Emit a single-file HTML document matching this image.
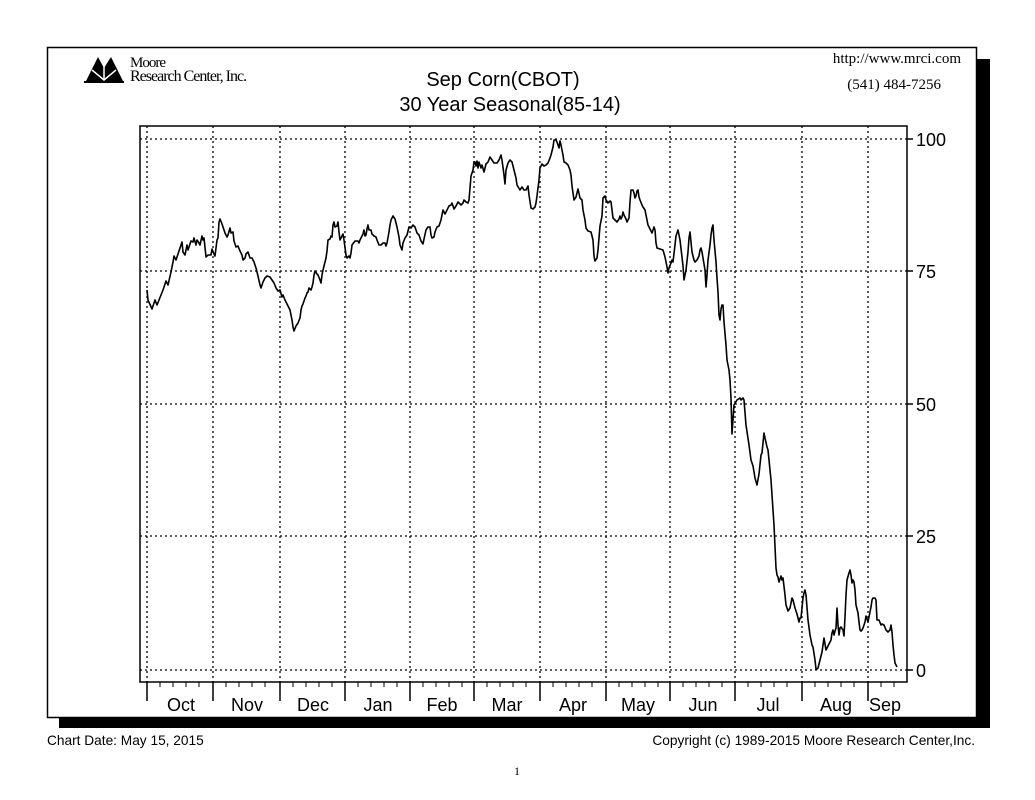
<!DOCTYPE html>
<html><head><meta charset="utf-8"><style>
body{margin:0;background:#fff;}
svg{display:block;}
</style></head><body>
<svg width="1035" height="800" viewBox="0 0 1035 800" xmlns="http://www.w3.org/2000/svg">
<rect x="0" y="0" width="1035" height="800" fill="#fff"/>
<rect x="59" y="59" width="931" height="669" fill="#000"/>
<rect x="47.5" y="47.5" width="929" height="670" fill="#fff" stroke="#000" stroke-width="1.5"/>
<!-- logo -->
<g fill="#000">
<polygon points="86,81 98,57 104,68 111,57 123,81"/>
<rect x="84" y="81" width="40" height="2"/>
</g>
<g stroke="#fff" stroke-width="1.5" fill="none"><path d="M92,70 L104,80 L116,70"/><path d="M104,58 L104,80"/></g>
<text x="130" y="67" font-family="Liberation Serif,serif" font-size="15" letter-spacing="-1">Moore</text>
<text x="130" y="81" font-family="Liberation Serif,serif" font-size="16" letter-spacing="-1">Research Center, Inc.</text>
<text x="961" y="63" text-anchor="end" font-family="Liberation Serif,serif" font-size="15">http://www.mrci.com</text>
<text x="941" y="89" text-anchor="end" font-family="Liberation Serif,serif" font-size="15">(541) 484-7256</text>
<text x="503" y="86" text-anchor="middle" font-family="Liberation Sans,sans-serif" font-size="20">Sep Corn(CBOT)</text>
<text x="510" y="111" text-anchor="middle" font-family="Liberation Sans,sans-serif" font-size="20">30 Year Seasonal(85-14)</text>
<!-- plot frame -->
<rect x="140" y="126" width="767" height="556" fill="none" stroke="#000" stroke-width="1.5"/>
<g stroke="#000" stroke-width="1.3" stroke-dasharray="2,3" fill="none">
<line x1="140" y1="139" x2="907" y2="139"/><line x1="140" y1="271" x2="907" y2="271"/><line x1="140" y1="404" x2="907" y2="404"/><line x1="140" y1="536" x2="907" y2="536"/><line x1="140" y1="670" x2="907" y2="670"/>
<line x1="147" y1="126" x2="147" y2="682"/><line x1="213" y1="126" x2="213" y2="682"/><line x1="280" y1="126" x2="280" y2="682"/><line x1="345" y1="126" x2="345" y2="682"/><line x1="410" y1="126" x2="410" y2="682"/><line x1="474" y1="126" x2="474" y2="682"/><line x1="540" y1="126" x2="540" y2="682"/><line x1="606" y1="126" x2="606" y2="682"/><line x1="670" y1="126" x2="670" y2="682"/><line x1="735" y1="126" x2="735" y2="682"/><line x1="802" y1="126" x2="802" y2="682"/><line x1="868" y1="126" x2="868" y2="682"/>
</g>
<g stroke="#000" stroke-width="1.5">
<line x1="907" y1="139" x2="913" y2="139"/><line x1="907" y1="271" x2="913" y2="271"/><line x1="907" y1="404" x2="913" y2="404"/><line x1="907" y1="536" x2="913" y2="536"/><line x1="907" y1="670" x2="913" y2="670"/>
<line x1="147" y1="682" x2="147" y2="701"/><line x1="213" y1="682" x2="213" y2="701"/><line x1="280" y1="682" x2="280" y2="701"/><line x1="345" y1="682" x2="345" y2="701"/><line x1="410" y1="682" x2="410" y2="701"/><line x1="474" y1="682" x2="474" y2="701"/><line x1="540" y1="682" x2="540" y2="701"/><line x1="606" y1="682" x2="606" y2="701"/><line x1="670" y1="682" x2="670" y2="701"/><line x1="735" y1="682" x2="735" y2="701"/><line x1="802" y1="682" x2="802" y2="701"/><line x1="868" y1="682" x2="868" y2="701"/>
</g>
<g font-family="Liberation Sans,sans-serif" font-size="18">
<text x="916" y="146">100</text><text x="916" y="278">75</text><text x="916" y="411">50</text><text x="916" y="543">25</text><text x="916" y="677">0</text>
</g>
<g font-family="Liberation Sans,sans-serif" font-size="18" text-anchor="middle">
<text x="181" y="711">Oct</text><text x="247" y="711">Nov</text><text x="313" y="711">Dec</text><text x="378" y="711">Jan</text><text x="442" y="711">Feb</text><text x="507" y="711">Mar</text><text x="573" y="711">Apr</text><text x="638" y="711">May</text><text x="703" y="711">Jun</text><text x="768" y="711">Jul</text><text x="836" y="711">Aug</text><text x="885" y="711">Sep</text>
</g>
<polyline fill="none" stroke="#000" stroke-width="1.6" stroke-linejoin="round" points="147,290 148,300 152,309 155,300 157,305 163,290 166,281 168,285 171,272 173,262 174,256 176,260 180,248 182,242 183,252 185,255 187,245 188,250 191,241 193,242 194,238 196,245 197,240 199,243 200,245 202,236 203,240 204,238 206,257 208,255 211,255 212,249 214,254 215,256 217,240 218,238 219,222 220,219 222,224 224,230 225,233 227,237 228,235 230,228 231,233 233,232 234,241 236,247 238,246 240,251 242,255 243,260 245,258 246,254 248,252 250,258 252,258 254,262 256,268 258,276 260,285 261,288 263,282 265,278 267,276 270,277 272,280 274,283 276,288 278,291 280,290 282,297 283,295 285,300 287,304 290,310 291,315 292,320 293,327 294,331 296,326 298,323 300,318 301,310 302,306 303,304 305,298 306,296 307,293 308,292 309,288 311,290 312,287 313,283 314,275 315,271 317,274 318,275 320,280 321,283 322,275 323,270 324,266 325,262 326,258 327,251 328,240 330,239 331,236 332,237 333,225 334,222 335,227 337,226 338,222 339,232 340,240 342,236 343,234 344,240 346,255 347,258 349,256 350,258 351,253 352,245 355,241 358,241 359,243 360,240 362,236 363,234 364,230 365,236 366,235 367,229 368,225 369,230 371,230 372,234 374,236 376,237 377,240 379,245 381,245 383,243 385,243 386,246 387,243 389,232 390,225 391,220 393,216 395,219 397,227 399,237 400,245 402,250 403,243 405,238 407,235 409,227 411,228 413,225 415,227 417,233 419,235 421,241 423,244 424,239 426,230 428,227 430,227 431,235 432,238 434,237 435,232 437,227 439,226 441,220 443,210 445,214 447,210 449,206 451,205 452,203 454,209 456,206 458,202 461,205 463,203 464,200 466,202 468,203 469,200 471,176 473,170 474,162 475,162 476,166 477,161 478,168 479,162 481,168 482,165 484,172 486,164 488,162 490,157 492,160 494,163 497,163 499,160 501,155 502,160 504,175 505,184 506,170 508,163 510,160 512,162 514,170 516,178 517,185 520,190 522,187 524,190 526,190 528,186 529,195 531,208 533,209 535,207 536,203 537,196 539,180 540,168 542,164 544,166 546,165 548,163 550,158 551,155 553,147 554,140 556,140 557,142 558,145 559,148 560,141 561,145 562,150 563,155 564,162 566,163 568,165 570,170 571,175 572,186 574,200 576,197 578,189 580,198 582,200 583,210 585,220 586,228 588,231 591,232 593,240 594,256 595,261 597,258 598,250 600,226 602,216 603,198 605,196 606,200 608,203 610,201 611,202 612,210 613,218 615,220 617,222 619,219 620,216 621,219 622,217 623,212 624,215 626,219 627,222 629,218 630,202 631,190 633,190 634,193 635,198 636,196 637,191 638,190 639,197 640,200 642,205 643,207 645,210 647,220 648,225 650,229 652,233 654,227 655,230 656,243 657,248 660,249 663,250 665,257 667,267 668,273 669,268 671,263 672,260 673,262 675,245 676,236 678,230 680,240 682,257 683,266 684,280 686,270 688,252 689,238 690,232 691,242 692,252 694,260 695,262 697,260 699,256 700,250 701,248 702,252 703,258 705,270 706,287 707,275 708,260 710,245 711,235 712,228 713,225 714,240 716,262 717,278 718,292 719,315 720,320 721,309 722,305 723,305 724,322 726,345 727,360 729,370 730,380 731,398 732,434 734,405 737,400 740,398 741,400 743,398 744,400 746,425 749,445 751,460 753,466 755,478 757,485 759,474 761,455 762,453 764,433 765,438 767,447 768,450 771,480 774,525 776,568 777,575 778,577 779,582 781,576 782,580 783,578 785,595 786,605 788,611 790,608 792,598 793,600 795,608 797,614 799,622 800,618 801,618 803,598 804,593 805,590 806,595 808,620 810,635 812,645 813,647 815,660 816,669 817,669 818,668 819,664 821,656 822,652 823,645 824,638 826,650 828,646 830,642 831,640 832,633 833,630 834,635 835,631 836,628 837,608 838,625 839,635 840,628 841,627 843,630 844,636 845,617 846,595 847,580 849,573 850,570 851,575 852,583 853,580 854,582 855,590 856,605 858,613 859,622 860,630 861,631 862,630 863,628 865,622 866,616 868,622 869,617 871,607 872,600 873,598 875,598 876,600 877,620 879,620 881,625 882,624 884,625 886,630 888,632 890,630 891,625 892,632 893,645 894,655 895,663 896,665 897,667"/>
<text x="47" y="745" font-family="Liberation Sans,sans-serif" font-size="13.7">Chart Date: May 15, 2015</text>
<text x="975" y="745" text-anchor="end" font-family="Liberation Sans,sans-serif" font-size="13.7">Copyright (c) 1989-2015 Moore Research Center,Inc.</text>
<text x="517" y="775" text-anchor="middle" font-family="Liberation Serif,serif" font-size="12">1</text>
<g stroke="#000" stroke-width="1">
<path d="M160,682v5M173,682v5M186,682v5M199,682v5M226,682v5M239,682v5M252,682v5M265,682v5M293,682v5M306,682v5M319,682v5M332,682v5M358,682v5M371,682v5M384,682v5M397,682v5M423,682v5M436,682v5M449,682v5M462,682v5M487,682v5M500,682v5M513,682v5M526,682v5M553,682v5M566,682v5M579,682v5M592,682v5M619,682v5M632,682v5M645,682v5M658,682v5M683,682v5M696,682v5M709,682v5M722,682v5M748,682v5M761,682v5M774,682v5M787,682v5M815,682v5M828,682v5M841,682v5M854,682v5M881,682v5M894,682v5"/>
</g>
</svg>
</body></html>
